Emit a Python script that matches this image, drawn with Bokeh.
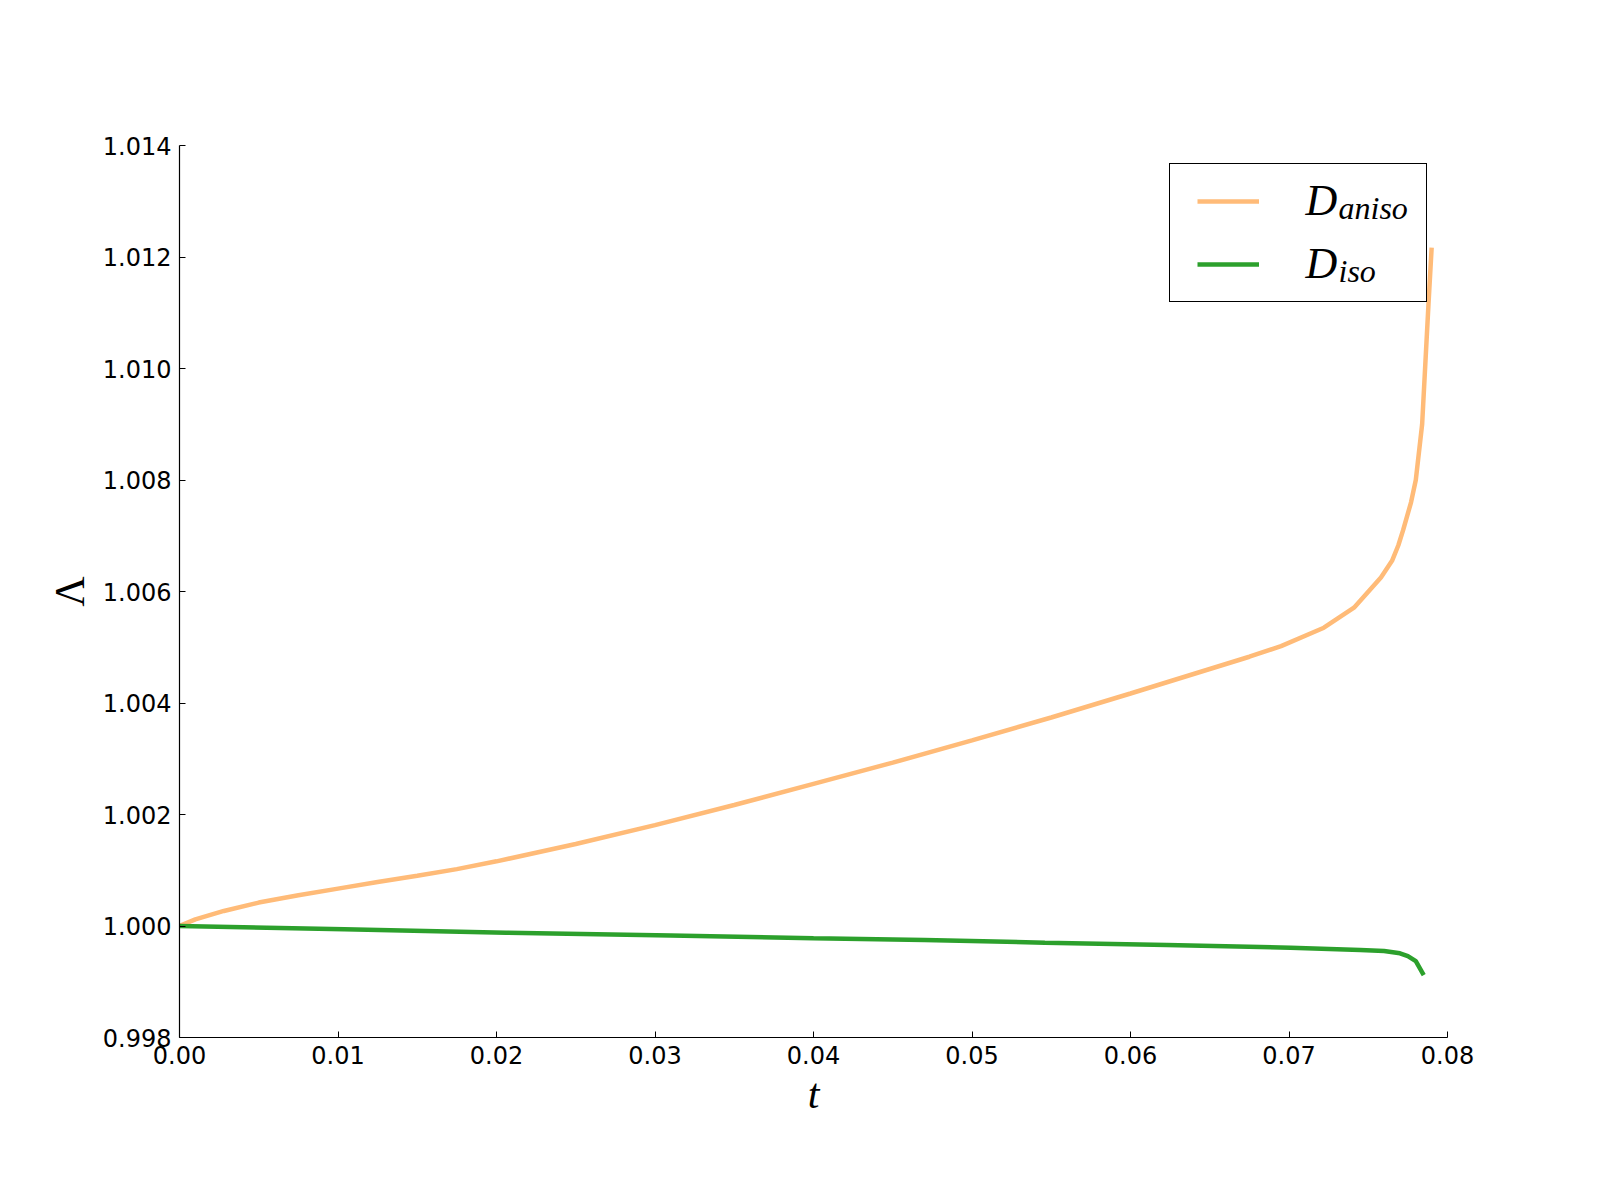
from bokeh.plotting import figure
from bokeh.models import Range1d, FixedTicker, NumeralTickFormatter, Legend, LegendItem, Label
from bokeh.embed import file_html
from bokeh.resources import INLINE

# ---- data ----
t_aniso = [0.0, 0.001, 0.0028, 0.005, 0.0075, 0.010, 0.0125, 0.015, 0.0175, 0.020, 0.025,
           0.030, 0.035, 0.040, 0.045, 0.050, 0.055, 0.060, 0.065, 0.0675, 0.0695, 0.0722,
           0.0741, 0.0758, 0.0765, 0.0769, 0.0772, 0.0777, 0.0780, 0.0784, 0.0786,
           0.0788, 0.0790]
lam_aniso = [1.0, 1.00012, 1.00027, 1.00042, 1.00055, 1.00067, 1.00079, 1.00090, 1.00102, 1.00116, 1.00147,
             1.00181, 1.00217, 1.00255, 1.00293, 1.00333, 1.00374, 1.00417, 1.00461, 1.00483, 1.00502, 1.00535,
             1.00571, 1.00625, 1.00655, 1.00683, 1.00710, 1.00760, 1.00800, 1.00900, 1.01008,
             1.01115, 1.01217]

t_iso = [0.0, 0.0104, 0.0206, 0.031, 0.040, 0.047, 0.0546, 0.0623, 0.0701, 0.0745,
         0.0760, 0.0770, 0.0775, 0.0780, 0.0785]
lam_iso = [1.0, 0.99994, 0.99988, 0.99983, 0.99978, 0.99975, 0.99970, 0.99966, 0.99961, 0.99957,
           0.99955, 0.99951, 0.99946, 0.99937, 0.99912]

x_ticks = [0.00, 0.01, 0.02, 0.03, 0.04, 0.05, 0.06, 0.07, 0.08]
y_ticks = [0.998, 1.000, 1.002, 1.004, 1.006, 1.008, 1.010, 1.012, 1.014]

series_names = ["D", "D"]
series_subs = ["aniso", "iso"]
colors = ["#ffbb78", "#2ca02c"]

p = figure(width=1584, height=1184, output_backend="svg", toolbar_location=None,
           x_range=Range1d(x_ticks[0], x_ticks[-1]), y_range=Range1d(y_ticks[0], y_ticks[-1]),
           min_border_left=179, min_border_right=137, min_border_top=145, min_border_bottom=147)
p.background_fill_color = "white"
p.border_fill_color = "white"
p.outline_line_color = None
p.grid.visible = False

r1 = p.line(t_aniso, lam_aniso, line_color=colors[0], line_width=4.5)
r2 = p.line(t_iso, lam_iso, line_color=colors[1], line_width=4.5)

for ax in (p.xaxis[0], p.yaxis[0]):
    ax.major_tick_in = 6
    ax.major_tick_out = 0
    ax.minor_tick_in = 0
    ax.minor_tick_out = 0
    ax.axis_line_color = "black"
    ax.axis_line_width = 1.2
    ax.major_tick_line_color = "black"
    ax.major_label_text_font = "DejaVu Sans"
    ax.major_label_text_font_size = "24px"
    ax.major_label_text_color = "black"
    ax.major_label_standoff = 8
    ax.axis_label_text_font = "Liberation Serif"
    ax.axis_label_text_font_size = "42px"
    ax.axis_label_text_color = "black"

p.xaxis.ticker = FixedTicker(ticks=x_ticks)
p.yaxis.ticker = FixedTicker(ticks=y_ticks)
p.xaxis.formatter = NumeralTickFormatter(format="0.00")
p.yaxis.formatter = NumeralTickFormatter(format="0.000")
p.xaxis.axis_label = "t"
p.xaxis.axis_label_text_font_style = "italic"
p.xaxis.axis_label_standoff = 4
p.yaxis.axis_label = "Λ"
p.yaxis.axis_label_text_font_style = "normal"
p.yaxis.axis_label_standoff = 7

legend = Legend(items=[LegendItem(label=" ", renderers=[r1]), LegendItem(label=" ", renderers=[r2])],
                location=(990, 735), padding=27, spacing=43, glyph_width=62, glyph_height=20,
                label_width=130, label_height=20, label_standoff=10, margin=0,
                border_line_color="black", border_line_width=1.2, border_line_alpha=1,
                background_fill_alpha=0, label_text_font_size="12px")
p.add_layout(legend)

# legend texts with subscripts (offsets from the top-right corner of the frame)
rows = [(-55, -62), (-118, -125)]
for name, sub, (yo_main, yo_sub) in zip(series_names, series_subs, rows):
    p.add_layout(Label(x=x_ticks[-1], y=y_ticks[-1], x_offset=-142, y_offset=yo_main, text=name,
                       text_font="Liberation Serif", text_font_style="italic", text_font_size="44px",
                       text_baseline="alphabetic", text_align="left", text_color="black"))
    p.add_layout(Label(x=x_ticks[-1], y=y_ticks[-1], x_offset=-109, y_offset=yo_sub, text=sub,
                       text_font="Liberation Serif", text_font_style="italic", text_font_size="32px",
                       text_baseline="alphabetic", text_align="left", text_color="black"))

open("out.html", "w").write(file_html(p, INLINE))
